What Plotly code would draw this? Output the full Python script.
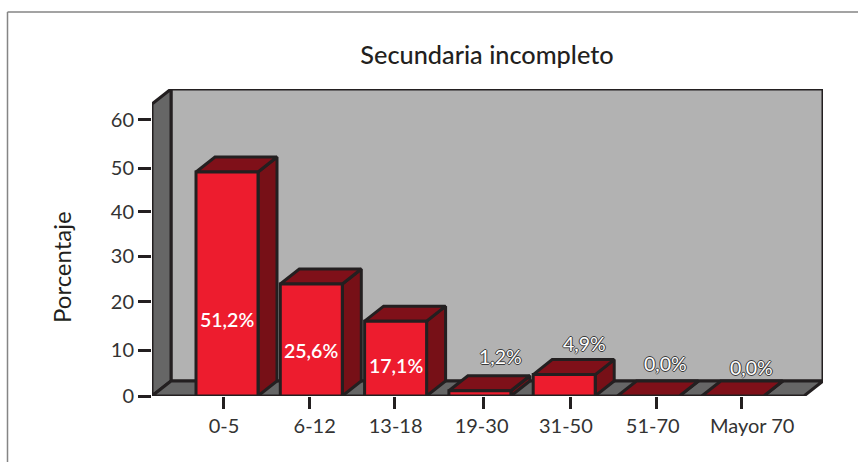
import plotly.graph_objects as go

# --- data -------------------------------------------------------------
title = "Secundaria incompleto"
y_title = "Porcentaje"
categories = ["0-5", "6-12", "13-18", "19-30", "31-50", "51-70", "Mayor 70"]
values = [51.2, 25.6, 17.1, 1.2, 4.9, 0.0, 0.0]
value_labels = ["51,2%", "25,6%", "17,1%", "1,2%", "4,9%", "0,0%", "0,0%"]
y_tick_labels = ["0", "10", "20", "30", "40", "50", "60"]

# The printed axis does not quite match the bars: ticks sit at these heights
y_tick_positions = [0, 10.5, 21.5, 32, 42.1, 52.1, 63.1]
x_tick_positions = [-0.036, 0.98, 1.99, 3.04, 4.07, 5.09, 6.10]
x_label_positions = [-0.036, 1.04, 2.0, 3.02, 4.02, 5.05, 6.23]

# --- geometry ---------------------------------------------------------
W, H = 858, 462
L, R, T, B = 152, 823, 89, 396
PX_X = 84.3      # pixels per bar slot
PX_Y = 4.375     # pixels per percentage point
X0 = (L - 227) / PX_X
X1 = (R - 227) / PX_X
Y1 = (B - T) / PX_Y
DX = 19 / PX_X   # depth of the 3D extrusion
DY = 15 / PX_Y
BAR_W = 62 / PX_X
FLOOR_R = X1 - DX

INK = "#231f20"
WALL = "#b2b2b2"
SIDE = "#666666"
RED = "#ed1c2e"
TOP = "#7f1019"
RIGHT = "#771017"
FONT = "Lato, 'Open Sans', sans-serif"

fig = go.Figure()


def poly(xs, ys, fill, width=3):
    fig.add_trace(go.Scatter(
        x=xs + xs[:1], y=ys + ys[:1], mode="lines", fill="toself",
        fillcolor=fill, line=dict(color=INK, width=width, shape="linear"),
        hoverinfo="skip", showlegend=False, cliponaxis=False))


# walls and floor
poly([X0 + DX, X1, X1, X0 + DX], [DY, DY, Y1, Y1], WALL)
poly([X0, X0 + DX, X0 + DX, X0], [0, DY, Y1, Y1 - DY], SIDE)
poly([X0, FLOOR_R, X1, X0 + DX], [0, 0, DY, DY], SIDE)

# bars
for i, v in enumerate(values):
    a, b = i - BAR_W / 2, i + BAR_W / 2
    poly([b, b + DX, b + DX, b], [0, DY, v + DY, v], RIGHT)
    poly([a, b, b + DX, a + DX], [v, v, v + DY, v + DY], TOP)
    if v > 0:
        poly([a, b, b, a], [0, 0, v, v], RED)

# value labels
OUTLINE = ",".join(f"{a}px {b}px 0 #3a3a3a" for a, b in
                   [(1, 0), (-1, 0), (0, 1), (0, -1)])
label_y = [17.6, 10.3, 7.0, 9.0, 12.0, 7.5, 6.5]
label_dx = [0.0, 0.0, 0.0, 0.25, 0.24, 0.2, 0.22]
annotations = []
for i, (txt, v) in enumerate(zip(value_labels, values)):
    inside = i < 3
    annotations.append(dict(
        x=i + label_dx[i], y=label_y[i], text=txt, showarrow=False,
        xanchor="center", yanchor="middle",
        font=dict(family=FONT, size=19.5, color="white",
                  weight=600 if inside else 400,
                  shadow="none" if inside else OUTLINE)))


def page_x(px):
    return (px - L) / (R - L)


def page_y(py):
    return (B - py) / (B - T)


# y axis title, placed low as in the original
annotations.append(dict(
    xref="paper", yref="paper", x=page_x(61), y=page_y(267), text=y_title,
    textangle=-90, showarrow=False, xanchor="center", yanchor="middle",
    font=dict(family=FONT, size=24, color=INK)))

# page frame
shapes = [
    dict(type="line", xref="paper", yref="paper",
         x0=page_x(7.5), x1=page_x(W), y0=page_y(12), y1=page_y(12),
         line=dict(color="#858585", width=1.5)),
    dict(type="line", xref="paper", yref="paper",
         x0=page_x(7.5), x1=page_x(7.5), y0=page_y(12), y1=page_y(H),
         line=dict(color="#858585", width=1.5)),
]

fig.update_layout(
    width=W, height=H,
    margin=dict(l=L, r=W - R, t=T, b=H - B, pad=0),
    paper_bgcolor="white", plot_bgcolor="white",
    showlegend=False,
    font=dict(family=FONT, color="#333333"),
    title=dict(text=title, x=487 / W, xanchor="center", xref="container",
               y=1 - 55 / H, yanchor="middle", yref="container",
               font=dict(family=FONT, size=25.3, color=INK, weight=500)),
    xaxis=dict(range=[X0, X1], tickmode="array", tickvals=x_label_positions,
               ticktext=categories, ticks="outside", ticklen=12, tickwidth=0,
               tickcolor="rgba(0,0,0,0)",
               minor=dict(tickmode="array", tickvals=x_tick_positions,
                          ticks="outside", ticklen=12, tickwidth=2.5,
                          tickcolor=INK, showgrid=False),
               showgrid=False, zeroline=False, showline=False,
               tickfont=dict(family=FONT, size=20, color="#333333")),
    yaxis=dict(range=[0, Y1], tickmode="array", tickvals=y_tick_positions,
               ticktext=y_tick_labels, ticks="outside", ticklen=13, tickwidth=2.5,
               tickcolor=INK, showgrid=False, zeroline=False, showline=False,
               tickfont=dict(family=FONT, size=20, color="#333333")),
    annotations=annotations,
    shapes=shapes,
)

fig.write_html("out.html", config={"displayModeBar": False},
               post_script="document.body.style.margin='0';document.body.style.overflow='hidden';")
